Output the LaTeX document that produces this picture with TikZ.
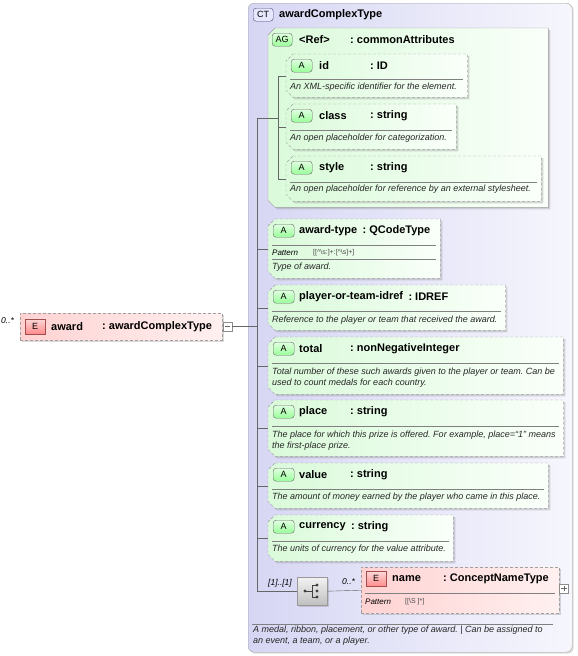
\documentclass[tikz,border=0pt]{standalone}
\usepackage{fontspec}
\setmainfont{Liberation Sans}
\usetikzlibrary{positioning}
\usetikzlibrary{shapes.misc, shadows}
\frenchspacing

\definecolor{ctleft}{RGB}{214,214,244}
\definecolor{ctright}{RGB}{246,246,253}
\definecolor{grleft}{RGB}{218,250,218}
\definecolor{grright}{RGB}{250,255,250}
\definecolor{pkleft}{RGB}{255,210,210}
\definecolor{pkright}{RGB}{255,240,240}
\definecolor{frame}{RGB}{160,160,160}

% frame with the two left corners cut off
\newcommand{\chamferframe}[2]{%
  \path[#1] ([xshift=7pt]#2.north west) -- (#2.north east) -- (#2.south east)
    -- ([xshift=7pt]#2.south west) -- ([yshift=7pt]#2.south west)
    -- ([yshift=-7pt]#2.north west) -- cycle;}

\tikzset{
  ctframe/.style={draw=frame, rounded corners=6pt, left color=ctleft, right color=ctright,
    anchor=north west, inner sep=0pt, drop shadow={shadow xshift=1.5pt, shadow yshift=-1.5pt, opacity=0.25}},
  space/.style={anchor=north west, inner sep=0pt},
  agframe/.style={draw=frame, left color=grleft, right color=grright,
    drop shadow={shadow xshift=2pt, shadow yshift=-2pt, opacity=0.3}},
  attrframe/.style={agframe, dash pattern=on 3pt off 2pt},
  elbox/.style={draw=frame, dash pattern=on 3pt off 2pt, left color=pkleft, right color=pkright,
    anchor=north west, inner sep=0pt, drop shadow={shadow xshift=2pt, shadow yshift=-2pt, opacity=0.3}},
  badge/.style={anchor=north west, inner sep=0pt, minimum height=13pt, font=\fontsize{9}{10}\selectfont},
  abadge/.style={badge, minimum width=21pt, draw=black!60, rounded corners=3pt, top color=green!12, bottom color=green!40!white},
  agbadge/.style={abadge, minimum width=20pt},
  ctbadge/.style={badge, minimum width=20pt, draw=blue!30!black!70, rounded corners=3pt, fill=ctleft!80!blue!30},
  ebadge/.style={badge, minimum width=20pt, minimum height=15pt, draw=red!50!black!70, top color=red!15, bottom color=red!45!white},
  lbl/.style={anchor=west, inner sep=0pt, font=\fontsize{11}{13}\selectfont\bfseries},
  desc/.style={anchor=west, inner sep=0pt, align=left, text=black!85, font=\fontsize{9}{11}\selectfont\itshape},
  pat/.style={anchor=west, inner sep=0pt, font=\fontsize{8}{9}\selectfont\itshape},
  patval/.style={anchor=west, inner sep=0pt, text=black!70, font=\fontsize{7}{9}\selectfont},
  mult/.style={anchor=west, inner sep=0pt, font=\fontsize{8.5}{9}\selectfont\itshape},
  sepline/.style={draw=black!50},
  conn/.style={draw=black!60},
  expander/.style={draw=black!45, fill=white, minimum size=9pt, inner sep=0pt},
  seqbox/.style={draw=black!40, top color=black!5, bottom color=black!25, anchor=north west,
    inner sep=0pt, drop shadow={shadow xshift=1.5pt, shadow yshift=-1.5pt, opacity=0.3}}
}

\begin{document}
\begin{tikzpicture}[x=1pt,y=-1pt]
  \useasboundingbox (0,0) rectangle (578,656);

  % complex type
  \node[ctframe, minimum width=324pt, minimum height=649pt] (ct) at (248,3) {};
  \node[ctbadge] (ctb) at (253,8) {CT};
  \node[lbl] (ctname) at (279,14.5) {awardComplexType};
  \coordinate (bus) at (257,0);
  \coordinate (agbus) at (278,0);

  % attribute group
  \node[space, minimum width=280pt, minimum height=179pt] (ag) at (268,28) {};
  \chamferframe{agframe}{ag}
  \node[agbadge] (agb) at (272,33) {AG};
  \node[lbl] (agref) at (299,39.5) {<Ref>};
  \node[lbl] (agtype) at (350,39.5) {: commonAttributes};

  % id
  \node[space, minimum width=181pt, minimum height=43pt] (id) at (286,54) {};
  \chamferframe{attrframe}{id}
  \node[abadge] (idb) at (291,59) {A};
  \node[lbl] (idname) at (319,65.5) {id};
  \node[lbl] (idtype) at (370,65.5) {: ID};
  \draw[sepline] (290,79) -- (463,79);
  \node[desc] (iddesc) at (290,87.5) {An XML-specific identifier for the element.};

  % class
  \node[space, minimum width=170pt, minimum height=45pt] (class) at (286,104) {};
  \chamferframe{attrframe}{class}
  \node[abadge] (classb) at (291,109) {A};
  \node[lbl] (classname) at (319,115.5) {class};
  \node[lbl] (classtype) at (370,115.5) {: string};
  \draw[sepline] (290,130) -- (452,130);
  \node[desc] (classdesc) at (290,138.5) {An open placeholder for categorization.};

  % style
  \node[space, minimum width=255pt, minimum height=45pt] (style) at (286,156) {};
  \chamferframe{attrframe}{style}
  \node[abadge] (styleb) at (291,161) {A};
  \node[lbl] (stylename) at (319,167.5) {style};
  \node[lbl] (styletype) at (370,167.5) {: string};
  \draw[sepline] (290,182) -- (537,182);
  \node[desc] (styledesc) at (290,189.5) {An open placeholder for reference by an external stylesheet.};

  \draw[conn] (ag.west -| bus) -- (ag.west -| agbus);
  \draw[conn] (id.west -| agbus) -- (style.west -| agbus);
  \foreach \n in {id, class, style}
    \draw[conn] (\n.west -| agbus) -- (\n.west);

  % award-type
  \node[space, minimum width=172pt, minimum height=59pt] (awdtype) at (268,219) {};
  \chamferframe{attrframe}{awdtype}
  \node[abadge] (awdtypeb) at (273,224) {A};
  \node[lbl] (awdtypename) at (299,230.5) {award-type};
  \node[lbl, right=5pt of awdtypename] (awdtypetype) {: QCodeType};
  \draw[sepline] (272,245) -- (436,245);
  \node[pat] (awdtypepat) at (272,252.5) {Pattern};
  \node[patval] (awdtypeval) at (313,252.5) {[[\textasciicircum\textbackslash s:]+:[\textasciicircum\textbackslash s]+]};
  \draw[sepline] (272,259) -- (436,259);
  \node[desc] (awdtypedesc) at (272,267.5) {Type of award.};

  % player-or-team-idref
  \node[space, minimum width=237pt, minimum height=45pt] (player) at (268,285) {};
  \chamferframe{attrframe}{player}
  \node[abadge] (playerb) at (273,290) {A};
  \node[lbl] (playername) at (299,296.5) {player-or-team-idref};
  \node[lbl, right=5pt of playername] (playertype) {: IDREF};
  \draw[sepline] (272,311) -- (501,311);
  \node[desc] (playerdesc) at (272,320) {Reference to the player or team that received the award.};

  % total
  \node[space, minimum width=295pt, minimum height=57pt] (total) at (268,337) {};
  \chamferframe{attrframe}{total}
  \node[abadge] (totalb) at (273,342) {A};
  \node[lbl] (totalname) at (299,348.5) {total};
  \node[lbl] (totaltype) at (350,348.5) {: nonNegativeInteger};
  \draw[sepline] (272,363) -- (559,363);
  \node[desc] (totaldesc) at (272,377.5) {Total number of these such awards given to the player or team. Can be\\used to count medals for each country.};

  % place
  \node[space, minimum width=295pt, minimum height=56pt] (place) at (268,400) {};
  \chamferframe{attrframe}{place}
  \node[abadge] (placeb) at (273,405) {A};
  \node[lbl] (placename) at (299,411.5) {place};
  \node[lbl] (placetype) at (350,411.5) {: string};
  \draw[sepline] (272,426) -- (559,426);
  \node[desc] (placedesc) at (272,440.5) {The place for which this prize is offered. For example, place=``1'' means\\the first-place prize.};

  % value
  \node[space, minimum width=280pt, minimum height=45pt] (value) at (268,463) {};
  \chamferframe{attrframe}{value}
  \node[abadge] (valueb) at (273,468) {A};
  \node[lbl] (valuename) at (299,474.5) {value};
  \node[lbl] (valuetype) at (350,474.5) {: string};
  \draw[sepline] (272,489) -- (544,489);
  \node[desc] (valuedesc) at (272,497) {The amount of money earned by the player who came in this place.};

  % currency
  \node[space, minimum width=185pt, minimum height=46pt] (currency) at (268,515) {};
  \chamferframe{attrframe}{currency}
  \node[abadge] (currencyb) at (273,520) {A};
  \node[lbl] (currencyname) at (299,526.5) {currency};
  \node[lbl, right=5pt of currencyname] (currencytype) {: string};
  \draw[sepline] (272,541) -- (449,541);
  \node[desc] (currencydesc) at (272,549.5) {The units of currency for the value attribute.};

  % sequence
  \node[seqbox, minimum width=30pt, minimum height=28pt] (seq) at (297,577) {};
  \fill[black!75] (305,591) circle (1.6pt);
  \draw[black!75, line width=0.8pt] (305,591) -- (312,591) (312,585) -- (312,597)
    (312,585) -- (317,585) (312,597) -- (317,597);
  \foreach \y in {585,591,597}
    \fill[black!75] (317,\y) circle (1.6pt);
  \node[mult] (seqmult) at (268,583.5) {[1]..[1]};
  \node[mult] (namemult) at (342,582) {0..*};

  % name element
  \node[elbox, minimum width=198pt, minimum height=46pt] (name) at (361,567) {};
  \node[ebadge] (nameb) at (366,571) {E};
  \node[lbl] (namelbl) at (392,578.5) {name};
  \node[lbl] (nametype) at (443,578.5) {: ConceptNameType};
  \draw[sepline] (365,593) -- (555,593);
  \node[pat] (namepat) at (365,601.5) {Pattern};
  \node[patval] (nameval) at (405,601.5) {[[\textbackslash S ]*]};
  \node[expander] (nameplus) at (564,588.5) {};
  \draw[black!60] ([xshift=2pt]nameplus.west) -- ([xshift=-2pt]nameplus.east)
    ([yshift=-2pt]nameplus.north) -- ([yshift=2pt]nameplus.south);

  % bus
  \draw[conn] (ag.west -| bus) -- (seq.west -| bus) -- (seq.west);
  \foreach \n in {awdtype, player, total, place, value, currency}
    \draw[conn] (\n.west -| bus) -- (\n.west);
  \draw[conn] (seq.east) -- (name.west);

  % documentation
  \draw[sepline] (252,624) -- (553,624);
  \node[desc] (ctdesc) at (253,636) {A medal, ribbon, placement, or other type of award. | Can be assigned to\\an event, a team, or a player.};

  % award element
  \node[elbox, minimum width=202pt, minimum height=27pt] (award) at (20,313) {};
  \node[ebadge] (awardb) at (25,318.5) {E};
  \node[lbl] (awardlbl) at (51,326.5) {award};
  \node[lbl] (awardtype) at (102,326.5) {: awardComplexType};
  \node[mult] (awardmult) at (1,321) {0..*};
  \node[expander] (awdminus) at (227.5,326.5) {};
  \draw[black!60] ([xshift=2pt]awdminus.west) -- ([xshift=-2pt]awdminus.east);
  \draw[conn] (awdminus.east) -- (awdminus.east -| bus);

\end{tikzpicture}
\end{document}
